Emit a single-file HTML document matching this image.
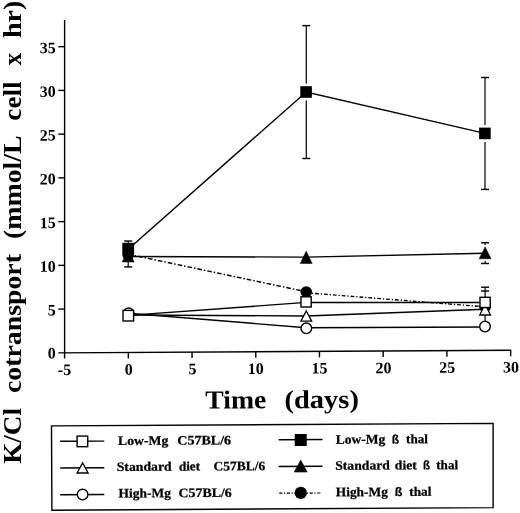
<!DOCTYPE html>
<html><head><meta charset="utf-8"><title>chart</title><style>
html,body{margin:0;padding:0;background:#fff;}
svg{display:block;font-family:"Liberation Serif",serif;font-weight:bold;fill:#000;filter:grayscale(1) blur(0.4px);}
.l{stroke:#000;fill:none;}
</style></head><body>
<svg width="520" height="513" viewBox="0 0 520 513">
<rect width="520" height="513" fill="#fff"/>
<line class="l" x1="64.6" y1="20" x2="64.6" y2="358.6" stroke-width="1.4"/>
<line class="l" x1="58.3" y1="352.84" x2="511.3" y2="350.3" stroke-width="1.4"/>
<line class="l" x1="58.3" y1="309.11" x2="64.6" y2="309.11" stroke-width="1.4"/>
<line class="l" x1="58.3" y1="265.37" x2="64.6" y2="265.37" stroke-width="1.4"/>
<line class="l" x1="58.3" y1="221.63" x2="64.6" y2="221.63" stroke-width="1.4"/>
<line class="l" x1="58.3" y1="177.89" x2="64.6" y2="177.89" stroke-width="1.4"/>
<line class="l" x1="58.3" y1="134.15" x2="64.6" y2="134.15" stroke-width="1.4"/>
<line class="l" x1="58.3" y1="90.41" x2="64.6" y2="90.41" stroke-width="1.4"/>
<line class="l" x1="58.3" y1="46.67" x2="64.6" y2="46.67" stroke-width="1.4"/>
<text transform="translate(47.74,358.45) rotate(-0.32)" font-size="16">0</text>
<text transform="translate(47.66,315.61) rotate(-0.32)" font-size="16">5</text>
<text transform="translate(39.74,271.87) rotate(-0.32)" font-size="16">10</text>
<text transform="translate(39.66,228.13) rotate(-0.32)" font-size="16">15</text>
<text transform="translate(39.74,184.39) rotate(-0.32)" font-size="16">20</text>
<text transform="translate(39.66,140.65) rotate(-0.32)" font-size="16">25</text>
<text transform="translate(39.74,96.91) rotate(-0.32)" font-size="16">30</text>
<text transform="translate(39.66,53.17) rotate(-0.32)" font-size="16">35</text>
<text transform="translate(57.86,375) rotate(-0.32)" font-size="16">-5</text>
<line class="l" x1="128.32" y1="352.44" x2="128.32" y2="358.44" stroke-width="1.4"/>
<text transform="translate(124.72,374.64) rotate(-0.32)" font-size="16">0</text>
<line class="l" x1="192.04" y1="352.09" x2="192.04" y2="358.09" stroke-width="1.4"/>
<text transform="translate(188.4,374.29) rotate(-0.32)" font-size="16">5</text>
<line class="l" x1="255.76" y1="351.73" x2="255.76" y2="357.73" stroke-width="1.4"/>
<text transform="translate(247.84,373.93) rotate(-0.32)" font-size="16">10</text>
<line class="l" x1="319.48" y1="351.37" x2="319.48" y2="357.37" stroke-width="1.4"/>
<text transform="translate(311.52,373.57) rotate(-0.32)" font-size="16">15</text>
<line class="l" x1="383.2" y1="351.02" x2="383.2" y2="357.02" stroke-width="1.4"/>
<text transform="translate(375.6,373.22) rotate(-0.32)" font-size="16">20</text>
<line class="l" x1="446.92" y1="350.66" x2="446.92" y2="356.66" stroke-width="1.4"/>
<text transform="translate(439.28,372.86) rotate(-0.32)" font-size="16">25</text>
<line class="l" x1="510.64" y1="350.3" x2="510.64" y2="356.3" stroke-width="1.4"/>
<text transform="translate(503.04,372.5) rotate(-0.32)" font-size="16">30</text>
<line class="l" x1="306.3" y1="25.6" x2="306.3" y2="83.4" stroke-width="1.2"/>
<line class="l" x1="302.3" y1="25.6" x2="310.3" y2="25.6" stroke-width="1.4"/>
<line class="l" x1="306.3" y1="100.6" x2="306.3" y2="158.5" stroke-width="1.2"/>
<line class="l" x1="302.3" y1="158.5" x2="310.3" y2="158.5" stroke-width="1.4"/>
<line class="l" x1="485" y1="77.5" x2="485" y2="125" stroke-width="1.2"/>
<line class="l" x1="481" y1="77.5" x2="489" y2="77.5" stroke-width="1.4"/>
<line class="l" x1="485" y1="142.1" x2="485" y2="189.4" stroke-width="1.2"/>
<line class="l" x1="481" y1="189.4" x2="489" y2="189.4" stroke-width="1.4"/>
<line class="l" x1="128.2" y1="241" x2="128.2" y2="243" stroke-width="1.2"/>
<line class="l" x1="124.2" y1="241" x2="132.2" y2="241" stroke-width="1.4"/>
<line class="l" x1="128.2" y1="261" x2="128.2" y2="266.9" stroke-width="1.2"/>
<line class="l" x1="124.2" y1="266.9" x2="132.2" y2="266.9" stroke-width="1.4"/>
<line class="l" x1="485.1" y1="242.75" x2="485.1" y2="245" stroke-width="1.2"/>
<line class="l" x1="481.1" y1="242.75" x2="489.1" y2="242.75" stroke-width="1.4"/>
<line class="l" x1="485.1" y1="261" x2="485.1" y2="263.5" stroke-width="1.2"/>
<line class="l" x1="481.1" y1="263.5" x2="489.1" y2="263.5" stroke-width="1.4"/>
<line class="l" x1="485.1" y1="287.2" x2="485.1" y2="297" stroke-width="1.2"/>
<line class="l" x1="481.1" y1="287.2" x2="489.1" y2="287.2" stroke-width="1.4"/>
<line class="l" x1="481.1" y1="291" x2="489.1" y2="291" stroke-width="1.4"/>
<line class="l" x1="485.1" y1="315" x2="485.1" y2="321.5" stroke-width="1.2"/>
<polyline class="l" points="128.2,249.2 306.2,92 485,133.4" stroke-width="1.45" />
<polyline class="l" points="128.2,256.4 306.2,257.1 485,253.3" stroke-width="1.45" />
<polyline class="l" points="128.2,254.2 306.2,291.7" stroke-width="1.45" stroke-dasharray="4.6 2 1.5 2"/>
<polyline class="l" points="306.2,292.8 485,306.8" stroke-width="1.45" stroke-dasharray="3.8 1.9 1.3 1.9" style="stroke-width:1.35"/>
<polyline class="l" points="128.2,315.4 306.2,302.4 485,302.5" stroke-width="1.45" />
<polyline class="l" points="128.2,315 306.2,315.9 485,309.3" stroke-width="1.45" />
<polyline class="l" points="128.2,313.2 306.2,327.8 485,326.9" stroke-width="1.45" />
<circle cx="128.2" cy="254.8" r="5.8" fill="#000"/>
<polygon points="128.2,250 134.2,262 122.2,262" fill="#000" stroke="#000" stroke-width="0.5" stroke-linejoin="miter"/>
<rect x="122.3" y="242.8" width="11.8" height="11.8" fill="#000"/>
<circle cx="128.7" cy="313.1" r="5.1" fill="#fff" stroke="#000" stroke-width="1.4"/>
<rect x="123" y="310.4" width="10.6" height="10.6" fill="#fff" stroke="#000" stroke-width="1.4"/>
<polygon points="306.2,251.2 312.2,263.5 300.2,263.5" fill="#000" stroke="#000" stroke-width="0.5" stroke-linejoin="miter"/>
<rect x="300.3" y="86.2" width="11.6" height="11.6" fill="#000"/>
<circle cx="306.25" cy="292" r="5.8" fill="#000"/>
<polygon points="306.3,311 311.7,321.1 300.9,321.1" fill="#fff" stroke="#000" stroke-width="1.3" stroke-linejoin="miter"/>
<circle cx="306.3" cy="328.3" r="5.3" fill="#fff" stroke="#000" stroke-width="1.4"/>
<rect x="301" y="296.8" width="10.2" height="10.2" fill="#fff" stroke="#000" stroke-width="1.4"/>
<rect x="479.1" y="127.6" width="11.6" height="11.6" fill="#000"/>
<polygon points="485.1,246.9 491.1,258.8 479.1,258.8" fill="#000" stroke="#000" stroke-width="0.5" stroke-linejoin="miter"/>
<circle cx="485.1" cy="306.8" r="5.8" fill="#000"/>
<polygon points="485.1,304.2 490.5,315 479.7,315" fill="#fff" stroke="#000" stroke-width="1.3" stroke-linejoin="miter"/>
<rect x="480" y="297.3" width="10.2" height="10.2" fill="#fff" stroke="#000" stroke-width="1.4"/>
<circle cx="485" cy="326.6" r="5.3" fill="#fff" stroke="#000" stroke-width="1.4"/>
<text transform="translate(205.6,408.6) rotate(-0.32) scale(1.0695,1)" x="-0.39" y="0" font-size="26">Time</text>
<text transform="translate(285.7,408.2) rotate(-0.32) scale(1.0982,1)" x="-1.17" y="0" font-size="26">(days)</text>
<text transform="translate(21.3,463.4) rotate(-90) scale(1.0446,1)" x="-0.39" y="0" font-size="26">K/Cl</text>
<text transform="translate(21.3,392) rotate(-90) scale(1.0693,1)" x="-0.91" y="0" font-size="26">cotransport</text>
<text transform="translate(21.3,237.7) rotate(-90) scale(1.0708,1)" x="-1.17" y="0" font-size="26">(mmol/L</text>
<text transform="translate(21.3,119.7) rotate(-90) scale(1.0459,1)" x="-0.91" y="0" font-size="26">cell</text>
<text transform="translate(21.3,65.1) rotate(-90) scale(0.9498,1)" x="-0.13" y="0" font-size="26">x</text>
<text transform="translate(21.3,37.4) rotate(-90) scale(1.0778,1)" x="-0.65" y="0" font-size="26">hr)</text>
<polygon class="l" points="51.5,425.9 493.1,423.4 493.1,507.6 51.9,510.2" stroke-width="1.4"/>
<line class="l" x1="60.2" y1="441.3" x2="104.3" y2="441.1" stroke-width="1.45"/>
<line class="l" x1="60.2" y1="468.0" x2="104.3" y2="467.8" stroke-width="1.45"/>
<line class="l" x1="60.2" y1="494.7" x2="104.3" y2="494.5" stroke-width="1.45"/>
<rect x="77.1" y="436.1" width="10.6" height="10.6" fill="#fff" stroke="#000" stroke-width="1.4"/>
<polygon points="82.6,462.9 88.15,473 77.05,473" fill="#fff" stroke="#000" stroke-width="1.3" stroke-linejoin="miter"/>
<circle cx="82.6" cy="494.6" r="5.3" fill="#fff" stroke="#000" stroke-width="1.4"/>
<line class="l" x1="278.7" y1="439.7" x2="322.5" y2="439.5" stroke-width="1.45"/>
<line class="l" x1="278.7" y1="466.4" x2="322.5" y2="466.2" stroke-width="1.45"/>
<line class="l" x1="279.2" y1="493.2" x2="321.2" y2="493.0" stroke-width="1.2" stroke-dasharray="3.2 1.6 1.2 1.6"/>
<rect x="294.75" y="434" width="12" height="12" fill="#000"/>
<polygon points="300.7,460 307.2,472.1 294.2,472.1" fill="#000" stroke="#000" stroke-width="0.5" stroke-linejoin="miter"/>
<circle cx="300.75" cy="492.9" r="6.15" fill="#000"/>
<text transform="translate(118.25,445) rotate(-0.32) scale(1.0556,1)" x="-0.2" y="0" font-size="13" stroke="#000" stroke-width="0.25">Low-Mg</text>
<text transform="translate(178,444.66) rotate(-0.32) scale(1.0806,1)" x="-0.65" y="0" font-size="13" stroke="#000" stroke-width="0.25">C57BL/6</text>
<text transform="translate(117.4,471) rotate(-0.32) scale(1.0595,1)" x="-0.71" y="0" font-size="13" stroke="#000" stroke-width="0.25">Standard</text>
<text transform="translate(179.4,470.66) rotate(-0.32) scale(1.0125,1)" x="-0.52" y="0" font-size="13" stroke="#000" stroke-width="0.25">diet</text>
<text transform="translate(214.1,470.46) rotate(-0.32) scale(1.0386,1)" x="-0.65" y="0" font-size="13" stroke="#000" stroke-width="0.25">C57BL/6</text>
<text transform="translate(118.7,497.5) rotate(-0.32) scale(1.0369,1)" x="-0.2" y="0" font-size="13" stroke="#000" stroke-width="0.25">High-Mg</text>
<text transform="translate(179.3,497.16) rotate(-0.32) scale(1.0673,1)" x="-0.65" y="0" font-size="13" stroke="#000" stroke-width="0.25">C57BL/6</text>
<text transform="translate(335.9,443.7) rotate(-0.32) scale(1.0418,1)" x="-0.2" y="0" font-size="13" stroke="#000" stroke-width="0.25">Low-Mg</text>
<text transform="translate(392.5,443.38) rotate(-0.32) scale(0.9844,1)" x="-0.86" y="0" font-size="12.35" font-family="Liberation Sans, sans-serif" stroke="#000" stroke-width="0.25">ß</text>
<text transform="translate(406.2,443.31) rotate(-0.32) scale(1.0162,1)" x="-0.2" y="0" font-size="13" stroke="#000" stroke-width="0.25">thal</text>
<text transform="translate(335.9,469.8) rotate(-0.32) scale(1.0537,1)" x="-0.71" y="0" font-size="13" stroke="#000" stroke-width="0.25">Standard</text>
<text transform="translate(395.4,469.47) rotate(-0.32) scale(1.0519,1)" x="-0.52" y="0" font-size="13" stroke="#000" stroke-width="0.25">diet</text>
<text transform="translate(423.7,469.31) rotate(-0.32) scale(0.9367,1)" x="-0.86" y="0" font-size="12.35" font-family="Liberation Sans, sans-serif" stroke="#000" stroke-width="0.25">ß</text>
<text transform="translate(436.4,469.24) rotate(-0.32) scale(1.0162,1)" x="-0.2" y="0" font-size="13" stroke="#000" stroke-width="0.25">thal</text>
<text transform="translate(335.9,496.35) rotate(-0.32) scale(1.0349,1)" x="-0.2" y="0" font-size="13" stroke="#000" stroke-width="0.25">High-Mg</text>
<text transform="translate(395.5,496.02) rotate(-0.32) scale(1.0161,1)" x="-0.86" y="0" font-size="12.35" font-family="Liberation Sans, sans-serif" stroke="#000" stroke-width="0.25">ß</text>
<text transform="translate(409.4,495.94) rotate(-0.32) scale(1.0256,1)" x="-0.2" y="0" font-size="13" stroke="#000" stroke-width="0.25">thal</text>
</svg></body></html>
